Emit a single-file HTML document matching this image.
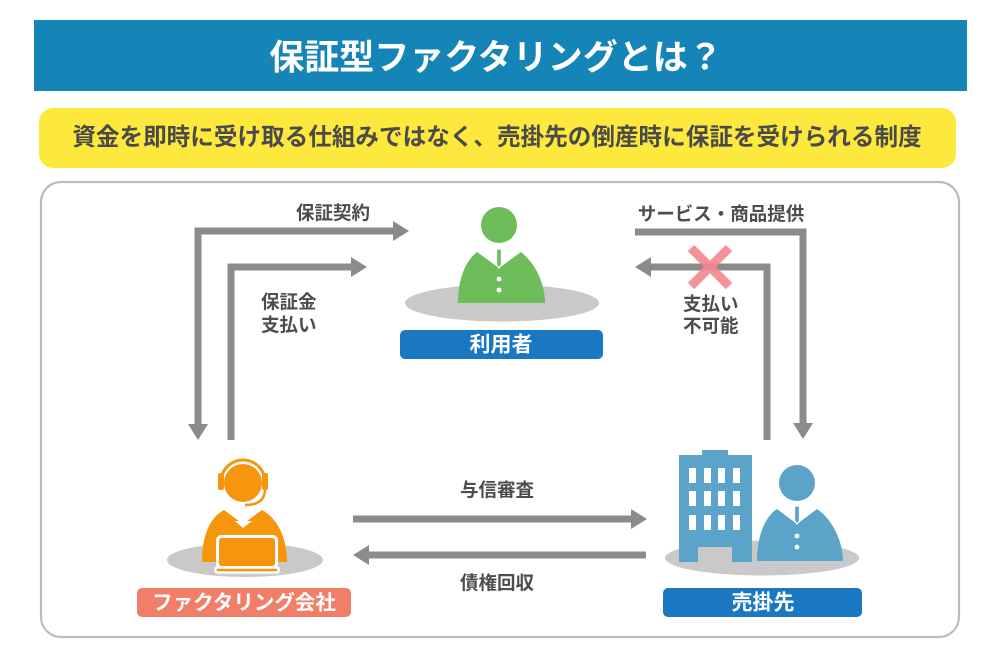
<!DOCTYPE html>
<html><head><meta charset="utf-8">
<style>
html,body{margin:0;padding:0;background:#fff;width:1000px;height:667px;overflow:hidden;}
svg{display:block;}
text{font-family:"Liberation Sans","Noto Sans CJK JP",sans-serif;font-weight:bold;}
</style></head>
<body>
<svg width="1000" height="667" viewBox="0 0 1000 667" xmlns="http://www.w3.org/2000/svg">
  <!-- title bar -->
  <rect x="34" y="20" width="933" height="71" fill="#1584b7"/>
  <text x="496" y="58" font-size="35" fill="#fff" text-anchor="middle" dominant-baseline="central">保証型ファクタリングとは？</text>
  <!-- yellow subtitle -->
  <rect x="39" y="108" width="917" height="60" rx="14" fill="#fde83e"/>
  <text x="497" y="138" font-size="23.6" fill="#4a4a4a" text-anchor="middle" dominant-baseline="central">資金を即時に受け取る仕組みではなく、売掛先の倒産時に保証を受けられる制度</text>
  <!-- panel -->
  <rect x="41" y="182" width="918" height="455" rx="20" fill="#fff" stroke="#bcbcbc" stroke-width="2.2"/>

  <!-- arrows -->
  <g fill="none" stroke="#8b8b8b" stroke-width="7">
    <path d="M198,426 L198,231 L394,231"/>
    <path d="M231,440 L231,267 L352,267"/>
    <path d="M635,232 L803,232 L803,425"/>
    <path d="M767,440 L767,267 L650,267"/>
    <path d="M353,519 L632,519"/>
    <path d="M646,555 L367,555"/>
  </g>
  <g fill="#8b8b8b">
    <polygon points="393,221 409,231 393,241"/>
    <polygon points="188,424 208,424 198,440"/>
    <polygon points="351,257 367,267 351,277"/>
    <polygon points="793,423 813,423 803,439"/>
    <polygon points="651,257 635,267 651,277"/>
    <polygon points="631,509 647,519 631,529"/>
    <polygon points="369,545 353,555 369,565"/>
  </g>
  <!-- X mark -->
  <g stroke="#f4868f" stroke-width="9" opacity="0.9">
    <line x1="691" y1="248" x2="729" y2="286"/>
    <line x1="729" y1="248" x2="691" y2="286"/>
  </g>

  <!-- labels -->
  <g font-size="18.5" fill="#4d4d4d" dominant-baseline="central">
    <text x="333" y="213" text-anchor="middle">保証契約</text>
    <text x="261" y="302">保証金</text>
    <text x="261" y="325">支払い</text>
    <text x="721" y="214" text-anchor="middle">サービス・商品提供</text>
    <text x="683" y="304">支払い</text>
    <text x="683" y="326">不可能</text>
    <text x="497" y="490" text-anchor="middle">与信審査</text>
    <text x="497" y="583" text-anchor="middle">債権回収</text>
  </g>

  <!-- user (利用者) -->
  <ellipse cx="502" cy="303" rx="97" ry="18.5" fill="#c9c9c9"/>
  <circle cx="499" cy="225" r="18" fill="#6ebd5b"/>
  <path d="M458,303 C458,282 464,262 477,252 L499,268 L521,252 C534,262 545,282 545,303 Z" fill="#6ebd5b"/>
  <path d="M496.5,249 L501.5,249 L501.5,265 L499,268 L496.5,265 Z" fill="#6ebd5b" stroke="#fff" stroke-width="1.3"/>
  <circle cx="499" cy="279" r="2.4" fill="#fff"/>
  <circle cx="499" cy="290" r="2.4" fill="#fff"/>
  <rect x="400" y="330" width="203" height="29" rx="5" fill="#1a78c2"/>
  <text x="501" y="345" font-size="21" fill="#fff" text-anchor="middle" dominant-baseline="central">利用者</text>

  <!-- factoring company -->
  <ellipse cx="245" cy="560" rx="78" ry="17" fill="#c9c9c9"/>
  <circle cx="243" cy="483" r="19" fill="#f6960f"/>
  <path d="M221,482 A22,22 0 0 1 265,482" fill="none" stroke="#f6960f" stroke-width="3"/>
  <rect x="218" y="473" width="6" height="17" rx="2" fill="#f6960f"/>
  <rect x="262" y="473" width="6" height="17" rx="2" fill="#f6960f"/>
  <path d="M265,489 C265,500 258,505 245,505" fill="none" stroke="#f6960f" stroke-width="2.5"/>
  <path d="M202,562 C202,537 209,518 224,510 L243,524 L262,510 C277,518 287,537 287,562 Z" fill="#f6960f"/>
  <polygon points="235,521 252,521 243,528" fill="#fff"/>
  <rect x="217.5" y="536.5" width="59" height="31" rx="4" fill="#f6960f" stroke="#fff" stroke-width="3"/>
  <rect x="215.5" y="567.5" width="63" height="5" rx="1.5" fill="#f6960f" stroke="#fff" stroke-width="2.5"/>
  <rect x="137" y="588" width="214" height="29" rx="5" fill="#f07e68"/>
  <text x="244" y="603" font-size="20.5" fill="#fff" text-anchor="middle" dominant-baseline="central">ファクタリング会社</text>

  <!-- seller (売掛先) -->
  <ellipse cx="762" cy="558" rx="97" ry="17.5" fill="#c9c9c9"/>
  <rect x="702" y="450" width="26" height="8" fill="#5ba3c8"/>
  <path d="M679,455 L752,455 L752,562 L732,562 L732,547 L698,547 L698,562 L679,562 Z" fill="#5ba3c8"/>
  <g fill="#fff">
    <rect x="689" y="468" width="7" height="15"/><rect x="704" y="468" width="7" height="15"/><rect x="718" y="468" width="7" height="15"/><rect x="733" y="468" width="7" height="15"/>
    <rect x="689" y="491" width="7" height="15"/><rect x="704" y="491" width="7" height="15"/><rect x="718" y="491" width="7" height="15"/><rect x="733" y="491" width="7" height="15"/>
    <rect x="689" y="515" width="7" height="15"/><rect x="704" y="515" width="7" height="15"/><rect x="718" y="515" width="7" height="15"/><rect x="733" y="515" width="7" height="15"/>
  </g>
  <circle cx="797" cy="483" r="18" fill="#5ba3c8"/>
  <path d="M757,561 C757,540 763,518 777,509 L797,524 L817,509 C831,518 843,540 843,561 Z" fill="#5ba3c8"/>
  <path d="M794.5,506 L799.5,506 L799.5,521 L797,524 L794.5,521 Z" fill="#5ba3c8" stroke="#fff" stroke-width="1.3"/>
  <circle cx="797" cy="536" r="2.4" fill="#fff"/>
  <circle cx="797" cy="547" r="2.4" fill="#fff"/>
  <rect x="663" y="588" width="199" height="29" rx="5" fill="#1a78c2"/>
  <text x="763" y="603" font-size="21" fill="#fff" text-anchor="middle" dominant-baseline="central">売掛先</text>
</svg>
</body></html>
